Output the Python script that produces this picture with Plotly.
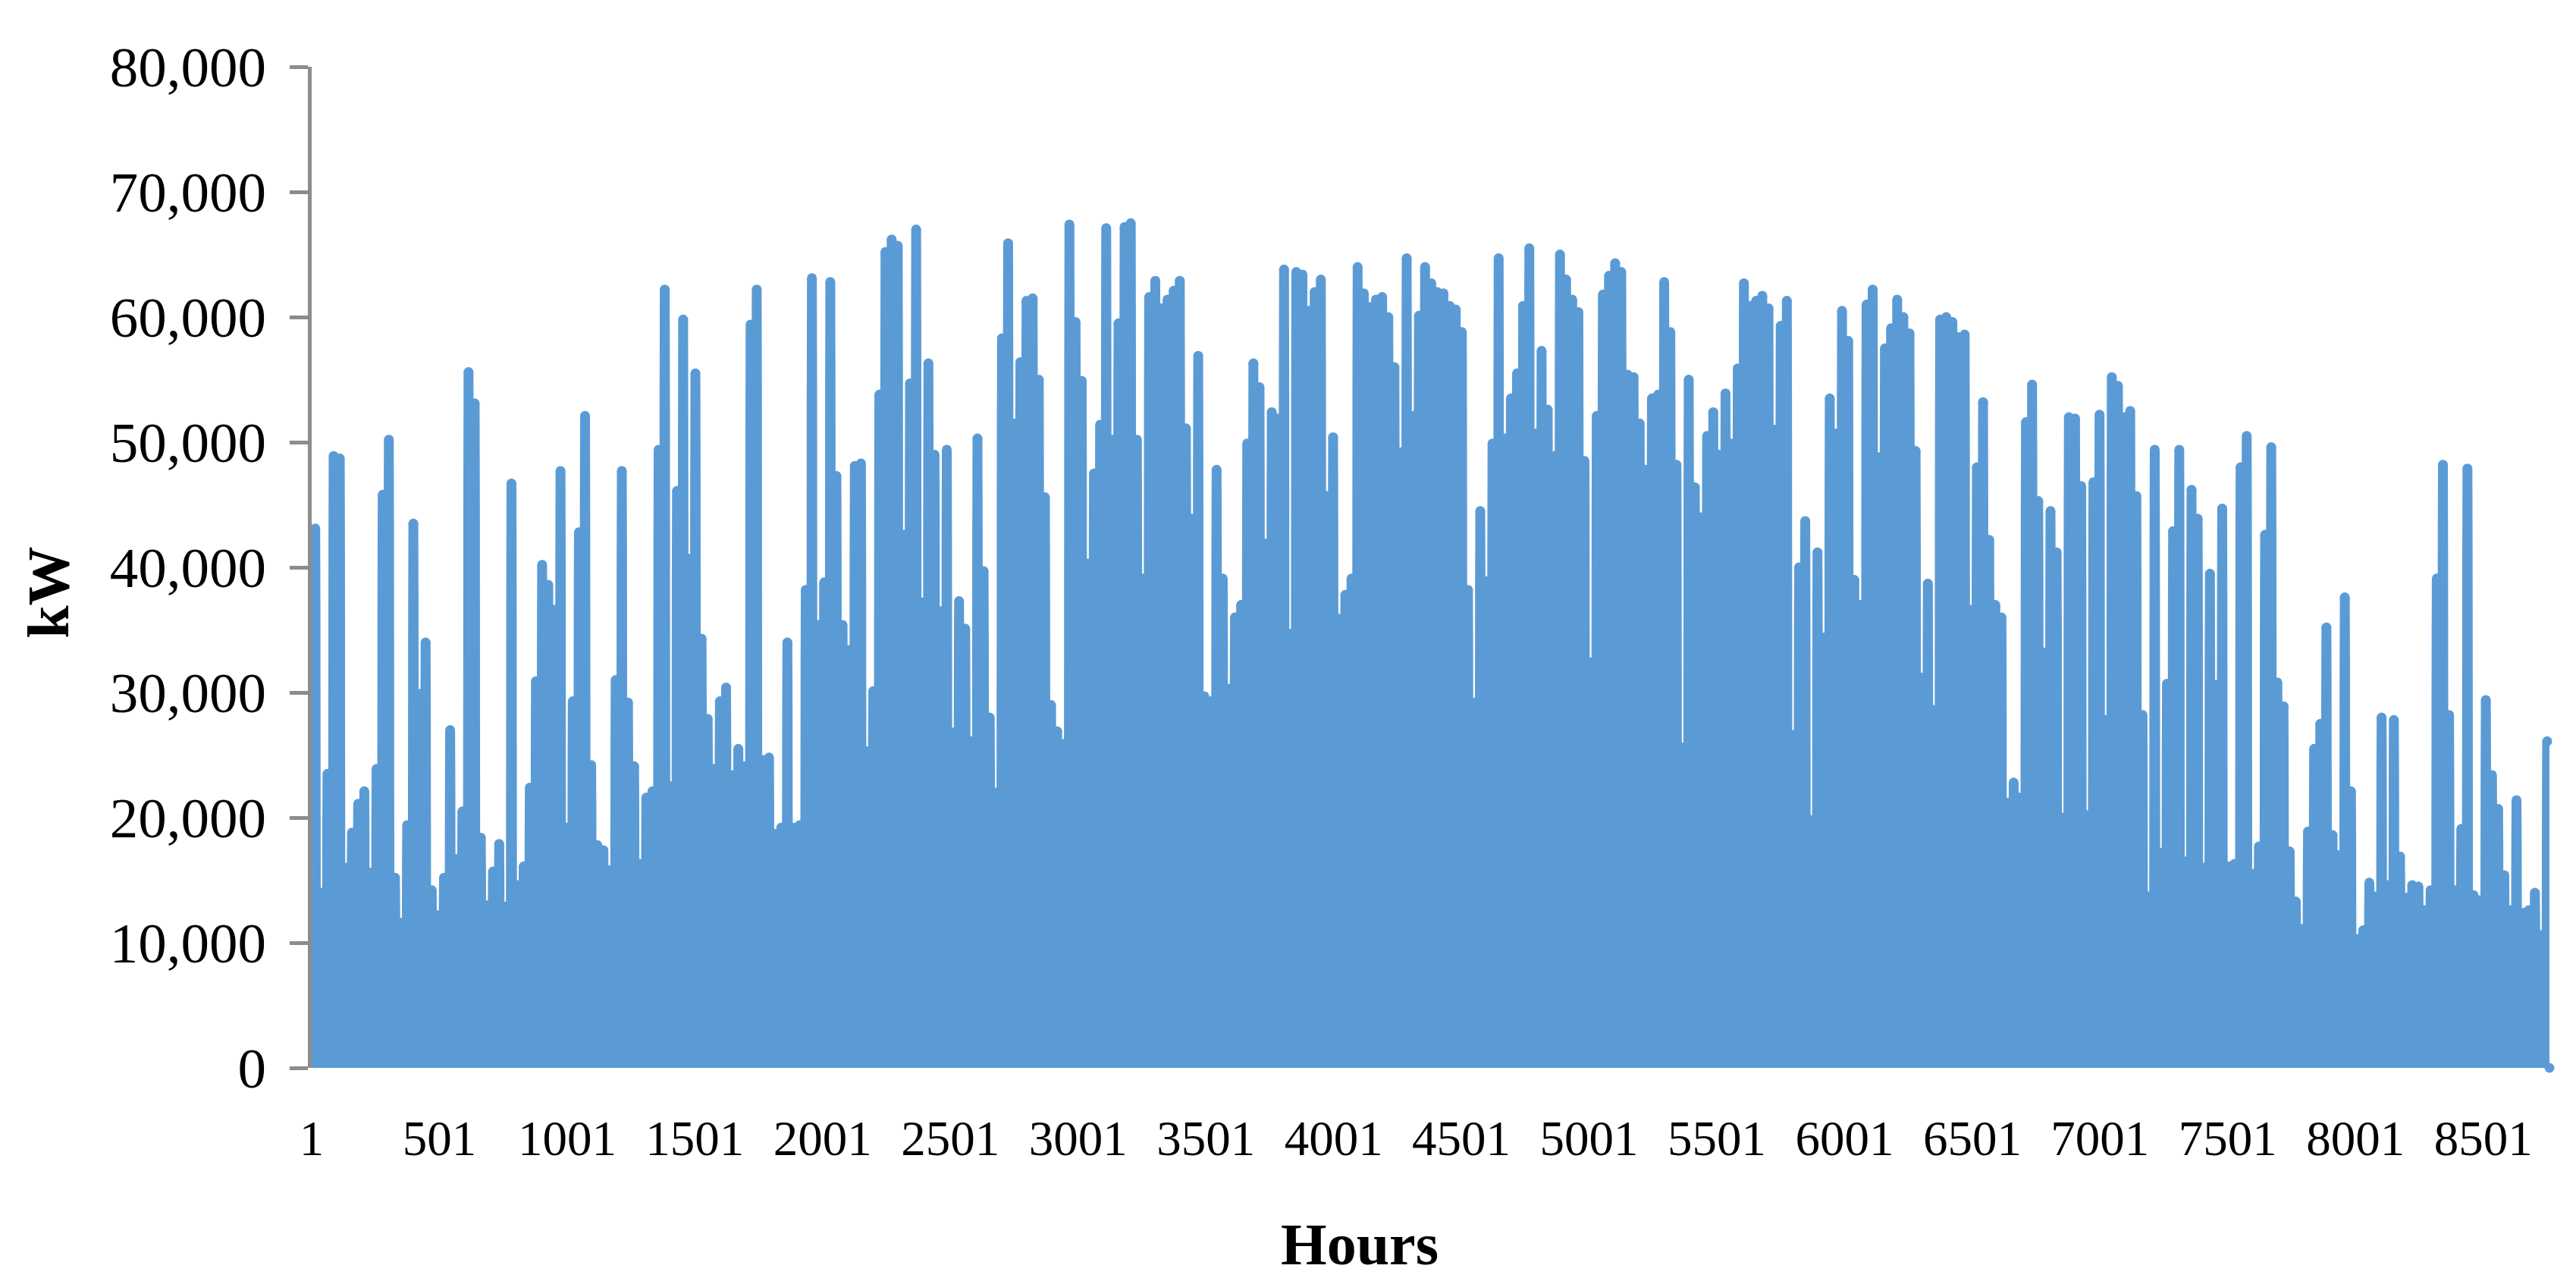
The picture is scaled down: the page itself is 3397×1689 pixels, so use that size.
import plotly.graph_objects as go

# Daily peak output (thousand kW), day 1 .. day 365
daily_peak_1 = [43.1,14.0,23.5,48.9,48.7,16.0,18.8,21.1,22.1,15.6,23.9,45.8,50.2,15.2,11.6,19.4,43.5,29.9,34.0,14.2,
 12.2,15.2,27.0,16.7,20.5,55.6,53.1,18.4,13.0,15.7,17.9,12.9,46.7,14.6,16.1,22.4,30.9,40.2,38.6,36.6,
 47.7,19.2,29.3,42.8,52.1,24.2,17.8,17.4,15.8,31.0,47.7,29.2,24.1,16.3,21.6,22.1,49.4,62.2,22.5,46.1]
daily_peak_2 = [59.8,40.7,55.5,34.3,27.9,23.9,29.3,30.4,23.4,25.5,24.1,59.4,62.2,24.6,24.8,18.7,19.2,34.0,19.2,19.4,
 38.2,63.1,35.4,38.8,62.8,47.3,35.4,33.4,48.1,48.3,25.3,30.1,53.8,65.2,66.2,65.7,42.6,54.7,67.0,37.2,
 56.3,49.0,36.5,49.4,26.8,37.3,35.1,26.1,50.3,39.7,28.0,22.0,58.3,65.9,51.5,56.4,61.3,61.5,55.0,45.6,29.0,26.9]
daily_peak_3 = [25.9,67.4,59.6,54.9,40.3,47.5,51.4,67.1,50.2,59.5,67.2,67.5,50.2,39.1,61.6,62.9,60.7,61.4,62.1,62.9,
 51.1,43.9,56.9,29.7,29.3,47.8,39.1,30.3,36.0,37.0,49.9,56.3,54.4,41.9,52.4,51.9,63.8,34.7,63.6,63.4,
 60.5,62.0,63.0,45.7,50.4,35.9,37.8,39.1,64.0,61.9,60.8,61.4,61.6,60.0,56.0,49.2,64.7,52.1,60.1,64.0]
daily_peak_4 = [62.7,62.0,61.9,60.9,60.6,58.8,38.2,29.2,44.5,38.9,49.9,64.7,50.3,53.5,55.5,60.9,65.5,50.7,57.3,52.6,
 48.9,65.0,63.0,61.4,60.4,48.5,32.4,52.1,61.8,63.3,64.3,63.6,55.4,55.2,51.5,47.8,53.5,53.8,62.8,58.8,
 48.2,25.6,55.0,46.4,44.0,50.5,52.4,49.0,53.9,49.9,55.9,62.7,60.9,61.3,61.7,60.7,51.0,59.3,61.3,26.6,40.0]
daily_peak_5 = [43.7,19.8,41.2,34.4,53.5,50.7,60.5,58.1,39.0,37.0,61.0,62.2,48.8,57.5,59.1,61.4,60.0,58.7,49.3,31.2,
 38.7,28.6,59.8,60.0,59.6,58.4,58.6,36.6,48.0,53.2,42.2,37.0,36.0,21.2,22.8,21.6,51.6,54.6,45.3,33.2,
 44.5,41.2,20.0,52.0,51.9,46.5,20.2,46.8,52.2,27.8,55.2,54.5,52.0,52.5,45.7,28.2,13.7,49.4,17.2,30.7,42.9,49.4,16.5]
daily_peak_6 = [46.2,43.9,16.0,39.5,30.6,44.7,16.1,16.3,48.0,50.5,15.5,17.7,42.6,49.6,30.8,28.9,17.3,13.3,11.1,18.9,
 25.5,27.5,35.2,18.6,17.0,37.6,22.1,10.3,11.0,14.8,13.7,28.0,14.6,27.8,16.9,13.6,14.6,14.5,12.6,14.2,
 39.1,48.2,28.2,14.2,19.1,47.9,13.8,13.4,29.4,23.4,20.7,15.4,12.6,21.4,12.4,12.6,14.0,10.6,26.1]
daily_peaks = daily_peak_1 + daily_peak_2 + daily_peak_3 + daily_peak_4 + daily_peak_5 + daily_peak_6

# Estimated shape of one day around its peak hour
profile_hours = [-3, -2, -1, 0, 1, 2, 3]
profile_share = [0, 0.4, 0.85, 1, 0.85, 0.4, 0]

y_ticks = [0, 10000, 20000, 30000, 40000, 50000, 60000, 70000, 80000]
x_ticks = [1, 501, 1001, 1501, 2001, 2501, 3001, 3501, 4001, 4501, 5001, 5501, 6001, 6501, 7001, 7501, 8001, 8501]
LAST_HOUR = 8760
BLUE = "#5B9BD5"
GREY = "#8C8C8C"
FONT = "Liberation Serif"
DOT = 13

hours, power, dots = [1], [0], [0]
for day, peak in enumerate(daily_peaks):
    centre = 24 * day + 15
    for off, share in zip(profile_hours, profile_share):
        hours.append(centre + off)
        power.append(peak * 1000 * share)
        dots.append(DOT if off == 0 else 0)
hours.append(LAST_HOUR)
power.append(0)
dots.append(DOT)

fig = go.Figure(go.Scatter(
    x=hours, y=power, mode="lines+markers",
    line=dict(color=BLUE, width=13, simplify=False),
    marker=dict(color=BLUE, size=dots, opacity=1, line=dict(width=0)),
    cliponaxis=False, showlegend=False, hoverinfo="skip",
))

W, H = 3397, 1689
L, R, T, B = 410.5, 3362, 88, 1407.6
fig.update_layout(
    width=W, height=H, autosize=False,
    paper_bgcolor="white", plot_bgcolor="white",
    margin=dict(l=L, r=W - R, t=T, b=H - B, pad=0, autoexpand=False),
    font=dict(family=FONT, color="black"),
    showlegend=False,
    xaxis=dict(range=[1, LAST_HOUR], tickmode="array", tickvals=x_ticks,
               ticktext=[str(v) for v in x_ticks], ticks="", showline=False,
               showgrid=False, zeroline=False, tickfont=dict(size=65, family=FONT, color="black"),
               ticklabelstandoff=49, automargin=False),
    yaxis=dict(range=[0, 80000], tickmode="array", tickvals=y_ticks,
               ticktext=[f"{v:,}" for v in y_ticks], ticks="outside", ticklen=24, tickwidth=5,
               tickcolor=GREY, showline=True, linecolor=GREY, linewidth=5, showgrid=False,
               zeroline=False, tickfont=dict(size=75, family=FONT, color="black"),
               ticklabelstandoff=16, automargin=False),
    annotations=[
        dict(text="<b>Hours</b>", xref="paper", yref="paper", x=(1793 - L) / (R - L),
             y=(B - 1640) / (B - T), xanchor="center", yanchor="middle", showarrow=False,
             font=dict(size=78, family=FONT, color="black")),
        dict(text="<b>kW</b>", xref="paper", yref="paper", x=(63 - L) / (R - L),
             y=(B - 781) / (B - T), xanchor="center", yanchor="middle", showarrow=False,
             textangle=-90, font=dict(size=78, family=FONT, color="black")),
    ],
)
fig.write_html("out.html", config={"displayModeBar": False},
               post_script="document.body.style.margin='0';window.dispatchEvent(new Event('resize'));")
